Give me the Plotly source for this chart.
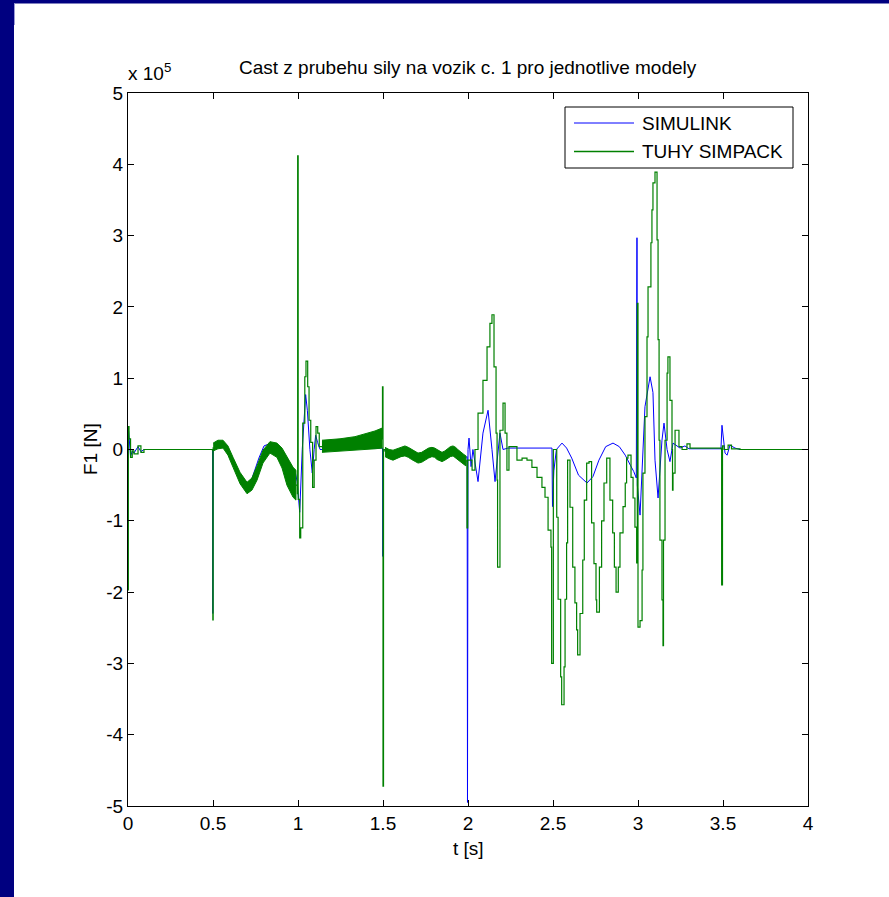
import plotly.graph_objects as go

# ---- force on bogie no. 1, values in units of 1e5 N ----
t_simulink = [0.000, 0.001, 0.004, 0.015, 0.025, 0.035, 0.059, 0.076, 0.094, 0.300,
              0.497, 0.499, 0.502, 0.530, 0.570, 0.600, 0.640, 0.680, 0.700, 0.730,
              0.770, 0.800, 0.830, 0.870, 0.900, 0.940, 0.970, 0.985, 0.995, 1.010,
              1.025, 1.045, 1.055, 1.070, 1.084, 1.095, 1.104, 1.115, 1.130, 1.300,
              1.497, 1.499, 1.502, 1.550, 1.600, 1.650, 1.700, 1.750, 1.800, 1.850,
              1.900, 1.950, 1.980, 1.995, 1.997, 2.000, 2.006, 2.018, 2.029, 2.059,
              2.088, 2.118, 2.141, 2.159, 2.188, 2.206, 2.235, 2.494, 2.497, 2.505,
              2.520, 2.553, 2.580, 2.610, 2.650, 2.700, 2.735, 2.770, 2.810, 2.853,
              2.890, 2.925, 2.955, 2.975, 2.990, 2.994, 2.996, 3.012, 3.041, 3.071,
              3.088, 3.100, 3.118, 3.141, 3.153, 3.171, 3.188, 3.206, 3.247, 3.276,
              3.300, 3.488, 3.494, 3.512, 3.524, 3.541, 3.571, 3.600, 4.000]
f_simulink = [0.00, 0.30, 0.25, -0.10, -0.02, -0.05, 0.04, -0.03, 0.00, 0.00,
              0.00, -2.30, 0.00, 0.06, 0.05, -0.06, -0.30, -0.50, -0.52, -0.40,
              -0.12, 0.05, 0.08, 0.04, -0.08, -0.25, -0.35, -0.33, -0.45, -0.88,
              0.00, 0.77, 0.55, 0.00, -0.33, 0.00, 0.20, 0.10, 0.00, 0.01,
              0.02, -1.50, 0.00, -0.05, -0.03, -0.06, -0.08, -0.05, -0.07, -0.09,
              -0.05, -0.08, -0.12, -0.10, -4.95, 0.00, 0.16, -0.24, 0.00, -0.45,
              0.23, 0.55, 0.00, -0.45, 0.23, 0.00, 0.02, 0.02, -0.80, -0.30,
              0.00, 0.09, 0.02, -0.12, -0.36, -0.47, -0.38, -0.15, 0.04, 0.09,
              0.04, -0.08, -0.22, -0.31, -0.40, 2.97, -0.50, -0.92, 0.60, 1.02,
              0.80, -0.15, -0.68, 0.13, 0.37, 0.00, -0.17, 0.09, 0.02, 0.05,
              0.01, 0.01, 0.34, -0.05, -0.08, 0.06, 0.02, 0.00, 0.00]

# rigid SIMPACK model; None separates the stretches drawn as dense bands
t_simpack = [0.000, 0.001, 0.002, 0.006, 0.015, 0.025, 0.035, 0.059, 0.076, 0.094,
             0.300, 0.497, 0.499, 0.501, None,
             0.988, 0.996, 0.998, 1.001, 1.010, 1.016, 1.028, 1.040, 1.047, 1.057,
             1.065, 1.075, 1.086, 1.095, 1.106, 1.116, 1.125, 1.141, None,
             1.494, 1.497, 1.500, 1.503, 1.512, None,
             1.988, 1.994, 1.998, 2.006, 2.024, 2.041, 2.059, 2.088, 2.112, 2.129,
             2.141, 2.153, 2.165, 2.171, 2.174, 2.188, 2.206, 2.218, 2.229, 2.241,
             2.259, 2.288, 2.318, 2.347, 2.376, 2.406, 2.435, 2.453, 2.471, 2.488,
             2.492, 2.502, 2.522, 2.530, 2.545, 2.551, 2.565, 2.571, 2.580, 2.586,
             2.600, 2.616, 2.629, 2.639, 2.645, 2.659, 2.675, 2.684, 2.698, 2.712,
             2.727, 2.741, 2.753, 2.757, 2.773, 2.786, 2.800, 2.816, 2.835, 2.851,
             2.861, 2.871, 2.884, 2.894, 2.912, 2.925, 2.933, 2.941, 2.959, 2.971,
             2.982, 2.992, 2.996, 3.000, 3.012, 3.024, 3.029, 3.041, 3.053, 3.059,
             3.076, 3.082, 3.088, 3.100, 3.112, 3.118, 3.124, 3.129, 3.141, 3.147,
             3.150, 3.159, 3.171, 3.176, 3.188, 3.200, 3.203, 3.206, 3.218, 3.235,
             3.241, 3.259, 3.288, 3.306, 3.490, 3.492, 3.497, 3.506, 3.530, 3.550,
             3.600, 4.000]
f_simpack = [0.00, -1.97, 0.32, 0.15, -0.11, -0.02, -0.06, 0.05, -0.04, 0.00,
             0.00, -0.01, -2.39, 0.03, None,
             -0.50, -0.62, 4.12, -0.70, -1.24, -1.10, 0.37, 1.02, 1.24, 0.88,
             0.41, 0.10, -0.53, -0.15, 0.32, 0.23, 0.04, 0.05, None,
             0.15, 0.88, -4.72, 0.00, -0.03, None,
             -0.16, -1.10, -0.15, -0.15, -0.29, 0.00, 0.51, 0.97, 1.44, 1.77,
             1.89, 1.16, 0.23, -0.43, -1.65, 0.27, 0.65, 0.23, -0.29, 0.04,
             0.04, -0.15, -0.12, -0.15, -0.25, -0.39, -0.53, -0.67, -1.13, -1.37,
             -3.00, 0.00, -0.95, -2.10, -3.19, -3.58, -3.05, -2.10, -1.31, -0.15,
             -0.81, -1.65, -2.15, -2.53, -2.88, -2.30, -1.55, -0.71, -0.19, -0.17,
             -1.03, -1.60, -2.11, -2.28, -1.65, -1.00, -0.47, -0.12, -0.71, -1.17,
             -1.65, -2.00, -1.65, -1.17, -0.80, -0.47, -0.12, -0.08, -0.39, -0.68,
             -1.09, -1.59, 2.05, -2.49, -2.40, -1.69, -0.33, 0.46, 1.58, 2.28,
             2.90, 3.36, 3.74, 3.89, 2.94, 1.54, 0.13, -1.27, -2.11, -2.75,
             -1.27, 0.13, 1.07, 1.30, 0.69, 0.00, -0.57, -0.33, 0.27, 0.27,
             0.04, 0.00, 0.08, 0.02, 0.01, -1.90, 0.05, 0.00, 0.06, 0.01,
             0.00, 0.00]

# envelopes of the fast oscillation in the SIMPACK force
band1_t = [0.501, 0.529, 0.559, 0.588, 0.618, 0.659, 0.700, 0.729, 0.759, 0.794,
           0.835, 0.876, 0.906, 0.935, 0.971, 0.988]
band1_hi = [0.09, 0.13, 0.13, 0.05, -0.11, -0.32, -0.46, -0.40, -0.23, -0.01,
            0.11, 0.09, 0.02, -0.11, -0.25, -0.29]
band1_lo = [-0.02, 0.01, 0.02, -0.08, -0.25, -0.48, -0.62, -0.57, -0.43, -0.19,
            -0.05, -0.11, -0.26, -0.50, -0.67, -0.71]

band2_t = [1.141, 1.247, 1.335, 1.394, 1.453, 1.494]
band2_hi = [0.13, 0.15, 0.18, 0.22, 0.26, 0.30]
band2_lo = [-0.04, -0.02, 0.00, 0.00, 0.01, 0.02]

band3_t = [1.512, 1.536, 1.559, 1.582, 1.606, 1.629, 1.649, 1.668, 1.688, 1.706,
           1.727, 1.747, 1.768, 1.788, 1.804, 1.818, 1.833, 1.847, 1.864, 1.880,
           1.896, 1.912, 1.927, 1.940, 1.953, 1.965, 1.976, 1.988]
band3_hi = [0.03, 0.00, -0.01, 0.01, 0.04, 0.05, 0.03, 0.00, -0.03, -0.05,
            -0.04, -0.01, 0.02, 0.03, 0.02, 0.00, -0.02, -0.04, -0.02, 0.01,
            0.04, 0.05, 0.03, 0.00, -0.03, -0.05, -0.07, -0.09]
band3_lo = [-0.10, -0.13, -0.15, -0.13, -0.10, -0.09, -0.11, -0.14, -0.17, -0.19,
            -0.18, -0.15, -0.12, -0.10, -0.11, -0.14, -0.16, -0.17, -0.15, -0.13,
            -0.10, -0.09, -0.11, -0.14, -0.17, -0.19, -0.21, -0.23]

x_ticks = [0, 0.5, 1, 1.5, 2, 2.5, 3, 3.5, 4]
x_tick_text = ["0", "0.5", "1", "1.5", "2", "2.5", "3", "3.5", "4"]
y_ticks = [-5, -4, -3, -2, -1, 0, 1, 2, 3, 4, 5]
y_tick_text = ["-5", "-4", "-3", "-2", "-1", "0", "1", "2", "3", "4", "5"]

series_names = ["SIMULINK", "TUHY SIMPACK"]
BLUE = "#0000ff"
GREEN = "#008000"
NAVY = "#000080"
FONT = "Liberation Sans, Arial, sans-serif"
FS = 19

# ---- page geometry (pixels) ----
W, H = 889, 897
ML, MR, MT, MB = 128, 81, 93, 91
PW, PH = W - ML - MR, H - MT - MB


def px(x):
    return (x - ML) / PW


def py(y):
    return (H - MB - y) / PH


fig = go.Figure()

fig.add_trace(go.Scatter(x=t_simulink, y=f_simulink, mode="lines",
                         line=dict(color=BLUE, width=1), showlegend=False,
                         name=series_names[0]))

for bt, hi, lo in [(band1_t, band1_hi, band1_lo),
                   (band2_t, band2_hi, band2_lo),
                   (band3_t, band3_hi, band3_lo)]:
    fig.add_trace(go.Scatter(x=bt + bt[::-1], y=hi + lo[::-1], mode="lines",
                             fill="toself", fillcolor=GREEN,
                             line=dict(color=GREEN, width=1),
                             showlegend=False, hoverinfo="skip"))

fig.add_trace(go.Scatter(x=t_simpack, y=f_simpack, mode="lines",
                         line=dict(color=GREEN, width=1.2, shape="hv"),
                         connectgaps=False, showlegend=False,
                         name=series_names[1]))

axis_common = dict(showline=True, linecolor="black", linewidth=1, mirror="ticks",
                   ticks="inside", ticklen=6, tickwidth=1, tickcolor="black",
                   showgrid=False, zeroline=False,
                   tickfont=dict(family=FONT, size=FS, color="black"))

fig.update_xaxes(range=[0, 4], tickvals=x_ticks, ticktext=x_tick_text, **axis_common)
fig.update_yaxes(range=[-5, 5], tickvals=y_ticks, ticktext=y_tick_text, **axis_common)

shapes = [
    # window frame strips
    dict(type="rect", xref="paper", yref="paper", x0=px(0), x1=px(14), y0=py(H), y1=py(0),
         fillcolor=NAVY, line=dict(width=0), layer="above"),
    dict(type="rect", xref="paper", yref="paper", x0=px(0), x1=px(W), y0=py(3.5), y1=py(0),
         fillcolor=NAVY, line=dict(width=0), layer="above"),
    dict(type="rect", xref="paper", yref="paper", x0=px(14), x1=px(15), y0=py(25), y1=py(3.5),
         fillcolor="#9a9ad6", line=dict(width=0), layer="above"),
    # legend box
    dict(type="rect", xref="paper", yref="paper", x0=px(565), x1=px(793), y0=py(168), y1=py(107),
         fillcolor="white", line=dict(color="black", width=1), layer="above"),
    dict(type="line", xref="paper", yref="paper", x0=px(574), x1=px(634), y0=py(123), y1=py(123),
         line=dict(color=BLUE, width=1), layer="above"),
    dict(type="line", xref="paper", yref="paper", x0=px(574), x1=px(634), y0=py(151.5), y1=py(151.5),
         line=dict(color=GREEN, width=1.3), layer="above"),
]

text_font = dict(family=FONT, size=FS, color="black")
annotations = [
    dict(text="Cast z prubehu sily na vozik c. 1 pro jednotlive modely",
         xref="paper", yref="paper", x=0.5, y=py(68), xanchor="center", yanchor="middle",
         showarrow=False, font=text_font),
    dict(text="x 10<sup>5</sup>", xref="paper", yref="paper", x=px(126), y=py(86),
         xanchor="left", yanchor="bottom", showarrow=False, font=text_font),
    dict(text="t [s]", xref="paper", yref="paper", x=0.5, y=py(848),
         xanchor="center", yanchor="middle", showarrow=False, font=text_font),
    dict(text="F1 [N]", xref="paper", yref="paper", x=px(90), y=py(449),
         xanchor="center", yanchor="middle", textangle=-90, showarrow=False, font=text_font),
    dict(text=series_names[0], xref="paper", yref="paper", x=px(640), y=py(123),
         xanchor="left", yanchor="middle", showarrow=False, font=text_font),
    dict(text=series_names[1], xref="paper", yref="paper", x=px(640), y=py(151.5),
         xanchor="left", yanchor="middle", showarrow=False, font=text_font),
]

fig.update_layout(width=W, height=H, margin=dict(l=ML, r=MR, t=MT, b=MB),
                  paper_bgcolor="white", plot_bgcolor="white",
                  shapes=shapes, annotations=annotations, showlegend=False,
                  font=dict(family=FONT, size=FS, color="black"))

fig.write_html("out.html")
